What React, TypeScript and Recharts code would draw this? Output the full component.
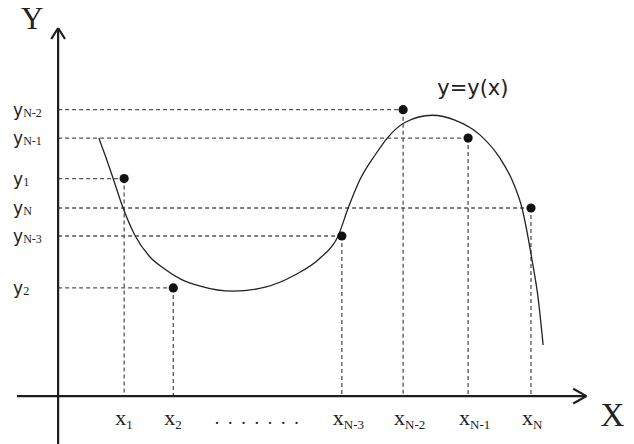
import React from "react";
import { ComposedChart, XAxis, YAxis, Line, Scatter, ReferenceLine } from "recharts";

// Sample points (x_i, y_i)
const pointNames = ["1", "2", "N-3", "N-2", "N-1", "N"];
const pointX = [1.25, 2.18, 5.37, 6.53, 7.76, 8.95];
const pointY = [5.91, 2.94, 4.35, 7.78, 7.01, 5.11];

// The curve y = y(x)
const curveX = [0.77, 0.9, 1.04, 1.23, 1.46, 1.74, 1.99, 2.32, 2.69, 3.31, 3.92, 4.48, 4.96, 5.3, 5.49, 5.71, 6.0, 6.23, 6.57, 7.08, 7.51, 7.99, 8.36, 8.61, 8.78, 8.97, 9.09, 9.18];
const curveY = [7.01, 6.5, 5.92, 5.11, 4.35, 3.78, 3.48, 3.18, 2.99, 2.85, 2.96, 3.29, 3.75, 4.35, 5.11, 5.87, 6.55, 7.01, 7.44, 7.63, 7.5, 7.09, 6.47, 5.81, 5.11, 3.7, 2.61, 1.39];

// Axes extents
const xAxisStart = -0.78;
const xAxisEnd = 10;
const yAxisStart = -1.3;
const yAxisEnd = 10;
const xDomain: [number, number] = [-1.1, 10.9];
const yDomain: [number, number] = [-1.3, 10.76];

// Ellipsis position between x2 and x_{N-3}
const ellipsisX = 3.72;
const curveLabel = "y=y(x)";
const curveLabelPos = { x: 7.85, y: 8.18 };

const points = pointX.map((x, i) => ({ x, y: pointY[i], name: pointNames[i] }));
const curve = curveX.map((x, i) => ({ x, y: curveY[i] }));
const yLabels = pointY.map((y, i) => ({ x: 0, y, name: pointNames[i] }));
const xLabels = pointX.map((x, i) => ({ x, y: 0, name: pointNames[i] }));

const AXIS = "#1e1e1e";
const GUIDE = "#555";

const YLabelShape = (p: any) => (
  <text x={p.cx - 45} y={p.cy + 6} fontFamily="DejaVu Sans" fontSize={17} fill="#222">
    y
    <tspan fontFamily="Liberation Serif" fontSize={12} dy={1}>{p.payload.name}</tspan>
  </text>
);

const XLabelShape = (p: any) => (
  <text x={p.cx - 9} y={p.cy + 29} fontFamily="Liberation Serif" fontSize={22} fill="#222">
    x
    <tspan fontSize={13} dy={4}>{p.payload.name}</tspan>
  </text>
);

const EllipsisShape = (p: any) => (
  <text x={p.cx - 40} y={p.cy + 28} fontFamily="Liberation Serif" fontSize={18} fill="#222" textLength={84} lengthAdjust="spacing">
    .......
  </text>
);

const AxisNameShape = (p: any) =>
  p.payload.name === "Y" ? (
    <text x={p.cx - 37} y={p.cy + 1} fontFamily="Liberation Serif" fontSize={31} fill="#222">Y</text>
  ) : (
    <text x={p.cx + 14} y={p.cy + 30} fontFamily="Liberation Serif" fontSize={33} fill="#222">X</text>
  );

const CurveLabelShape = (p: any) => (
  <text x={p.cx} y={p.cy} textAnchor="middle" fontFamily="DejaVu Sans" fontSize={21} fill="#222">{curveLabel}</text>
);

const DotShape = (p: any) => <circle cx={p.cx} cy={p.cy} r={4.6} fill="#111" />;

export default function App() {
  return (
    <div style={{ position: "absolute", left: 0, top: 0, width: 634, height: 444, background: "#fff" }}>
      <ComposedChart width={634} height={444} margin={{ top: 0, right: 0, bottom: 0, left: 0 }}>
        <XAxis type="number" dataKey="x" domain={xDomain} allowDataOverflow hide />
        <YAxis type="number" dataKey="y" domain={yDomain} allowDataOverflow hide />
        {points.map((pt) => (
          <ReferenceLine key={"h" + pt.name} segment={[{ x: 0, y: pt.y }, { x: pt.x, y: pt.y }]} stroke={GUIDE} strokeWidth={1.3} strokeDasharray="4 3" ifOverflow="visible" />
        ))}
        {points.map((pt) => (
          <ReferenceLine key={"v" + pt.name} segment={[{ x: pt.x, y: pt.y }, { x: pt.x, y: 0 }]} stroke={GUIDE} strokeWidth={1.3} strokeDasharray="4 3" ifOverflow="visible" />
        ))}
        <ReferenceLine segment={[{ x: xAxisStart, y: 0 }, { x: xAxisEnd, y: 0 }]} stroke={AXIS} strokeWidth={2.2} ifOverflow="visible" />
        <ReferenceLine segment={[{ x: 0, y: yAxisStart }, { x: 0, y: yAxisEnd }]} stroke={AXIS} strokeWidth={2.2} ifOverflow="visible" />
        <ReferenceLine segment={[{ x: xAxisEnd - 0.25, y: 0.2 }, { x: xAxisEnd, y: 0 }]} stroke={AXIS} strokeWidth={2.2} ifOverflow="visible" />
        <ReferenceLine segment={[{ x: xAxisEnd - 0.25, y: -0.2 }, { x: xAxisEnd, y: 0 }]} stroke={AXIS} strokeWidth={2.2} ifOverflow="visible" />
        <ReferenceLine segment={[{ x: -0.13, y: yAxisEnd - 0.3 }, { x: 0, y: yAxisEnd }]} stroke={AXIS} strokeWidth={2.2} ifOverflow="visible" />
        <ReferenceLine segment={[{ x: 0.13, y: yAxisEnd - 0.3 }, { x: 0, y: yAxisEnd }]} stroke={AXIS} strokeWidth={2.2} ifOverflow="visible" />
        <Line data={curve} dataKey="y" type="monotone" stroke="#222" strokeWidth={1.3} dot={false} isAnimationActive={false} />
        <Scatter data={points} dataKey="y" shape={DotShape} isAnimationActive={false} />
        <Scatter data={yLabels} dataKey="y" shape={YLabelShape} isAnimationActive={false} />
        <Scatter data={xLabels} dataKey="y" shape={XLabelShape} isAnimationActive={false} />
        <Scatter data={[{ x: ellipsisX, y: 0 }]} dataKey="y" shape={EllipsisShape} isAnimationActive={false} />
        <Scatter data={[{ x: 0, y: yAxisEnd, name: "Y" }, { x: xAxisEnd, y: 0, name: "X" }]} dataKey="y" shape={AxisNameShape} isAnimationActive={false} />
        <Scatter data={[curveLabelPos]} dataKey="y" shape={CurveLabelShape} isAnimationActive={false} />
      </ComposedChart>
    </div>
  );
}
